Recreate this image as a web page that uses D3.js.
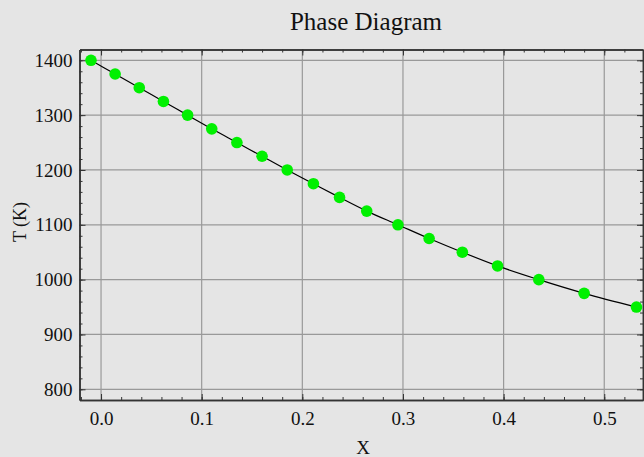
<!DOCTYPE html>
<html>
<head>
<meta charset="utf-8">
<script src="https://cdn.jsdelivr.net/npm/d3@7"></script>
<style>
  body { margin: 0; background: #e5e5e5; }
  svg { display: block; }
</style>
</head>
<body>
<div id="chart"></div>
<script>
// measured points (composition x vs temperature T)
const xValues = [-0.010, 0.014, 0.038, 0.062, 0.086, 0.110, 0.135, 0.160, 0.185,
  0.211, 0.237, 0.264, 0.295, 0.326, 0.359, 0.394, 0.435, 0.480, 0.532];
const tValues = [1400, 1375, 1350, 1325, 1300, 1275, 1250, 1225, 1200,
  1175, 1150, 1125, 1100, 1075, 1050, 1025, 1000, 975, 950];
const xTicks = [0.0, 0.1, 0.2, 0.3, 0.4, 0.5];
const yTicks = [800, 900, 1000, 1100, 1200, 1300, 1400];

const serif = "'Liberation Serif', 'Times New Roman', serif";
const width = 644, height = 457;
const margin = { top: 49.5, right: 1, bottom: 57, left: 79.5 };
const innerW = width - margin.left - margin.right;
const innerH = height - margin.top - margin.bottom;

const svg = d3.select("#chart").append("svg")
  .attr("width", width)
  .attr("height", height);

const x = d3.scaleLinear().domain([-0.0214, 0.5385]).range([0, innerW]);
const y = d3.scaleLinear().domain([780.5, 1419.7]).range([innerH, 0]);

const g = svg.append("g")
  .attr("transform", "translate(" + margin.left + "," + margin.top + ")");

// grid
g.append("g").selectAll("line").data(xTicks).enter().append("line")
  .attr("x1", d => x(d)).attr("x2", d => x(d))
  .attr("y1", 0).attr("y2", innerH)
  .attr("stroke", "#999").attr("stroke-width", 1.2);
g.append("g").selectAll("line").data(yTicks).enter().append("line")
  .attr("y1", d => y(d)).attr("y2", d => y(d))
  .attr("x1", 0).attr("x2", innerW)
  .attr("stroke", "#999").attr("stroke-width", 1.2);

// frame ticks (major + minor, pointing inward)
const xMinor = d3.range(-0.02, 0.54, 0.02).filter(v => v > -0.0214 && v < 0.5385);
const yMinor = d3.range(800, 1420, 20);

function frameAxis(axis, transform) {
  const a = g.append("g").attr("transform", transform).call(axis);
  a.attr("font-family", serif).attr("font-size", 19);
  a.select(".domain").attr("stroke", "#333").attr("stroke-width", 1.5);
  a.selectAll(".tick line").attr("stroke", "#333").attr("stroke-width", 1);
  a.selectAll(".tick text").attr("fill", "#111");
  return a;
}

frameAxis(
  d3.axisBottom(x).tickValues(xTicks).tickFormat(d3.format(".1f")).tickSize(-6).tickSizeOuter(0).tickPadding(12),
  "translate(0," + innerH + ")");
frameAxis(d3.axisBottom(x).tickValues(xMinor).tickFormat("").tickSize(-3).tickSizeOuter(0),
  "translate(0," + innerH + ")");

frameAxis(d3.axisTop(x).tickValues(xTicks).tickFormat("").tickSize(-6).tickSizeOuter(0), "");
frameAxis(d3.axisTop(x).tickValues(xMinor).tickFormat("").tickSize(-3).tickSizeOuter(0), "");

frameAxis(
  d3.axisLeft(y).tickValues(yTicks).tickFormat(d3.format("d")).tickSize(-6).tickSizeOuter(0).tickPadding(7),
  "");
frameAxis(d3.axisLeft(y).tickValues(yMinor).tickFormat("").tickSize(-3).tickSizeOuter(0), "");

frameAxis(d3.axisRight(y).tickValues(yTicks).tickFormat("").tickSize(-6).tickSizeOuter(0),
  "translate(" + innerW + ",0)");
frameAxis(d3.axisRight(y).tickValues(yMinor).tickFormat("").tickSize(-3).tickSizeOuter(0),
  "translate(" + innerW + ",0)");

// curve through points
const pts = xValues.map((v, i) => ({ x: v, t: tValues[i] }));
g.append("path")
  .datum(pts)
  .attr("fill", "none")
  .attr("stroke", "#000")
  .attr("stroke-width", 1.2)
  .attr("d", d3.line().x(d => x(d.x)).y(d => y(d.t)).curve(d3.curveMonotoneX));

g.selectAll(".dot").data(pts).enter().append("circle")
  .attr("class", "dot")
  .attr("cx", d => x(d.x))
  .attr("cy", d => y(d.t))
  .attr("r", 5.8)
  .attr("fill", "#00f000");

// labels
svg.append("text")
  .attr("x", 366).attr("y", 30)
  .attr("text-anchor", "middle")
  .attr("font-family", serif).attr("font-size", 25).attr("fill", "#111")
  .text("Phase Diagram");

svg.append("text")
  .attr("x", 363).attr("y", 454)
  .attr("text-anchor", "middle")
  .attr("font-family", serif).attr("font-size", 19).attr("fill", "#111")
  .text("X");

svg.append("text")
  .attr("transform", "translate(26,222) rotate(-90)")
  .attr("text-anchor", "middle")
  .attr("font-family", serif).attr("font-size", 18).attr("fill", "#111")
  .text("T (K)");
</script>
</body>
</html>
